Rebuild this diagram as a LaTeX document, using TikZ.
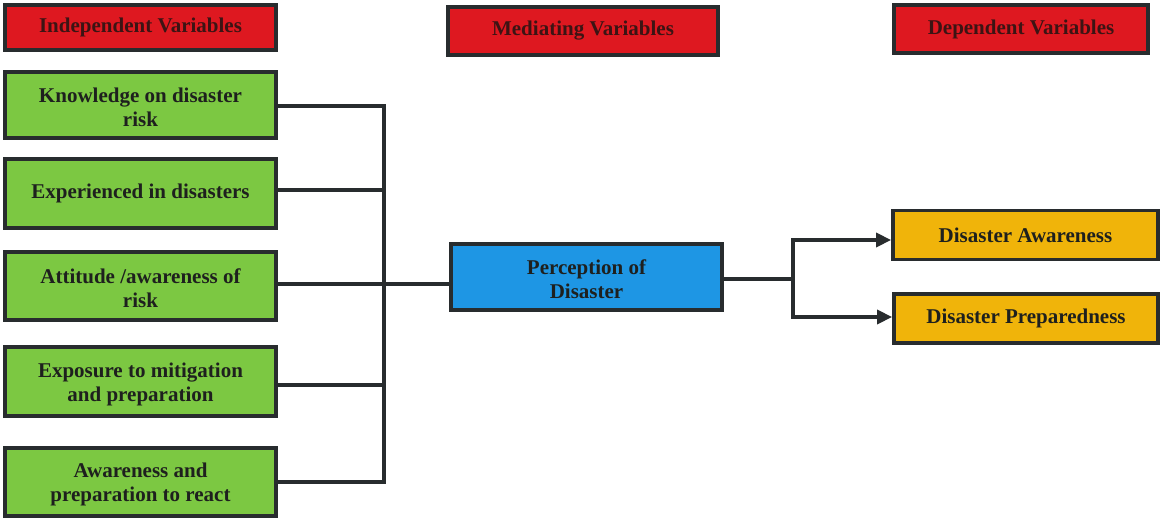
\documentclass[tikz,border=0pt]{standalone}
\usepackage{fontspec}
\setmainfont{Liberation Serif}
\usetikzlibrary{arrows.meta}
\definecolor{hdrred}{RGB}{222,24,32}
\definecolor{ivgreen}{RGB}{124,200,66}
\definecolor{medblue}{RGB}{30,150,228}
\definecolor{dvorange}{RGB}{240,180,10}
\definecolor{edge}{RGB}{40,44,46}
\definecolor{hdrtext}{RGB}{60,20,20}
\definecolor{boxtext}{RGB}{30,32,30}
\tikzset{
  basebox/.style={draw=edge, line width=3.8pt, inner sep=0pt, align=center,
    font=\fontsize{21}{24}\selectfont\bfseries, text=boxtext},
  hdrbox/.style={basebox, fill=hdrred, text=hdrtext},
  ivbox/.style={basebox, fill=ivgreen, minimum width=271pt},
  medbox/.style={basebox, fill=medblue, minimum width=271pt, minimum height=66pt},
  dvbox/.style={basebox, fill=dvorange, minimum height=49pt},
  link/.style={draw=edge, line width=3.6pt},
  arrowlink/.style={link, -{Triangle[length=15pt,width=14pt]}}
}
\begin{document}
\begin{tikzpicture}[x=1pt,y=-1pt]
\useasboundingbox (0,0) rectangle (1163,521);
% headers
\node[hdrbox, minimum width=271pt, minimum height=45pt] (hi) at (140.5,27.5) {Independent Variables};
\node[hdrbox, minimum width=270pt, minimum height=48pt] (hm) at (583,31) {Mediating Variables};
\node[hdrbox, minimum width=254pt, minimum height=48pt] (hd) at (1021,29) {Dependent Variables};
% independent variables
\node[ivbox, minimum height=66pt] (k1) at (140.5,105) {\rule{0pt}{20pt}Knowledge on disaster\\risk};
\node[ivbox, minimum height=69pt] (k2) at (140.5,193.5) {Experienced in disasters};
\node[ivbox, minimum height=68pt] (k3) at (140.5,286) {\rule{0pt}{20pt}Attitude /awareness of\\risk};
\node[ivbox, minimum height=69pt] (k4) at (140.5,381.5) {\rule{0pt}{20pt}Exposure to mitigation\\and preparation};
\node[ivbox, minimum height=68pt] (k5) at (140.5,482) {\rule{0pt}{20pt}Awareness and\\preparation to react};
% mediating
\node[medbox] (p) at (586.5,277) {\rule{0pt}{20pt}Perception of\\Disaster};
% dependent
\node[dvbox, minimum width=265pt] (o1) at (1025.5,235) {Disaster Awareness};
\node[dvbox, minimum width=264pt] (o2) at (1026,318.5) {Disaster Preparedness};
% bus coordinates
\coordinate (bus) at (384,284);
\coordinate (split) at (793,279);
% connectors
\draw[link] ([yshift=-1pt]k1.east) -| (bus);
\draw[link] ([yshift=3.5pt]k2.east) -| (bus);
\draw[link] ([yshift=-3.5pt]k4.east) -| (bus);
\draw[link] (k5.east) -| (bus);
\draw[link] ([yshift=2pt]k3.east) -- ([yshift=2pt]k3.east -| p.west);
\draw[link] (p.east |- split) -- (split);
\draw[arrowlink] (split) |- ([yshift=-5pt]o1.west);
\draw[arrowlink] (split) |- ([yshift=1.5pt]o2.west);
\end{tikzpicture}
\end{document}
